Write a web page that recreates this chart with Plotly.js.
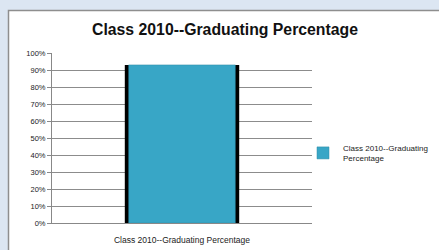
<!DOCTYPE html>
<html><head><meta charset="utf-8">
<script src="https://cdn.plot.ly/plotly-3.0.1.min.js"></script>
<style>body{margin:0;padding:0;background:#dce6f2}#c{width:439px;height:250px}</style>
</head><body><div id="c"></div>
<script>
const categories = ["Class 2010--Graduating Percentage"];
const seriesName = "Class 2010--Graduating<br>Percentage";
const values = [93];
const tickVals = [0,10,20,30,40,50,60,70,80,90,100];
const tickText = ["0%","10%","20%","30%","40%","50%","60%","70%","80%","90%","100%"];

const W = 439, H = 250, L = 52, R = 127, T = 53, B = 27;
const pw = W - L - R, ph = H - T - B;
const px = v => (v - L) / pw, py = v => (H - B - v) / ph;

const traces = [
  {type:'bar', x:categories, y:values, width:0.44, showlegend:false, hoverinfo:'skip',
   marker:{color:'#000000'}},
  {type:'bar', x:categories, y:values, width:0.41, name:seriesName,
   marker:{color:'#38a6c6', line:{color:'#2d8aa6', width:0.5}}}
];
const layout = {
  width:W, height:H, margin:{l:L, r:R, t:T, b:B, autoexpand:false},
  paper_bgcolor:'#dce6f2', plot_bgcolor:'rgba(0,0,0,0)',
  barmode:'overlay',
  font:{family:'Liberation Sans, Arial, sans-serif', color:'#222'},
  title:{text:'<b>Class 2010--Graduating Percentage</b>', font:{size:15.8, color:'#111'},
         x:225 / W, xanchor:'center', xref:'container', y:1-29/H, yanchor:'middle'},
  xaxis:{type:'category', range:[-0.5,0.5], showline:true, linecolor:'#888', linewidth:1,
         ticks:'outside', ticklen:9, tickcolor:'rgba(0,0,0,0)', tickfont:{size:8.5, color:'#222'},
         showgrid:false, fixedrange:true, automargin:false},
  yaxis:{range:[0,100], tickvals:tickVals, ticktext:tickText, showgrid:true, gridcolor:'#8c8c8c',
         gridwidth:1, showline:true, linecolor:'#888', linewidth:1, ticks:'outside', ticklen:4,
         tickcolor:'#888', tickfont:{size:7.5, color:'#222'}, zeroline:false, fixedrange:true,
         automargin:false},
  legend:{x:px(303), y:py(136), yanchor:'top', xanchor:'left', font:{size:8, color:'#222'},
          bgcolor:'rgba(0,0,0,0)', itemwidth:30, tracegroupgap:0},
  shapes:[{type:'rect', xref:'paper', yref:'paper', layer:'below',
           x0:px(8.5), x1:px(445), y0:py(255), y1:py(10.5),
           fillcolor:'#ffffff', line:{color:'#8e8e8e', width:1.5}}]
};
Plotly.newPlot('c', traces, layout, {displayModeBar:false, staticPlot:true});
</script></body></html>
